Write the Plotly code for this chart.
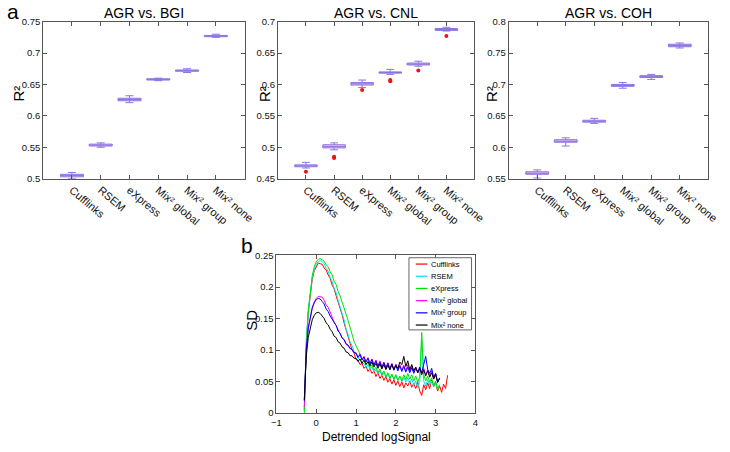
import plotly.graph_objects as go

# ---------------- data: panel a (box plots) ----------------
CATEGORIES = ["Cufflinks", "RSEM", "eXpress", "Mix² global", "Mix² group", "Mix² none"]
CAT_POS = [1, 2, 3, 4, 5, 6]

PANEL_TITLES = ["AGR vs. BGI", "AGR vs. CNL", "AGR vs. COH"]

# BGI
BGI_LOW = [0.500, 0.550, 0.621, 0.656, 0.669, 0.725]
BGI_Q1 = [0.503, 0.552, 0.624, 0.657, 0.671, 0.726]
BGI_MED = [0.505, 0.553, 0.626, 0.658, 0.672, 0.727]
BGI_Q3 = [0.507, 0.555, 0.628, 0.659, 0.673, 0.728]
BGI_HIGH = [0.510, 0.557, 0.632, 0.660, 0.675, 0.730]
BGI_OUT_X = []
BGI_OUT_Y = []

# CNL
CNL_LOW = [0.467, 0.496, 0.595, 0.616, 0.629, 0.685]
CNL_Q1 = [0.469, 0.499, 0.599, 0.618, 0.631, 0.686]
CNL_MED = [0.470, 0.501, 0.601, 0.619, 0.632, 0.687]
CNL_Q3 = [0.472, 0.504, 0.603, 0.620, 0.634, 0.689]
CNL_HIGH = [0.476, 0.507, 0.607, 0.624, 0.637, 0.691]
CNL_OUT_X = [1, 2, 2, 3, 4, 4, 5, 6]
CNL_OUT_Y = [0.461, 0.483, 0.485, 0.591, 0.605, 0.607, 0.622, 0.677]

# COH
COH_LOW = [0.551, 0.602, 0.638, 0.694, 0.708, 0.758]
COH_Q1 = [0.557, 0.608, 0.640, 0.697, 0.711, 0.760]
COH_MED = [0.558, 0.609, 0.641, 0.698, 0.712, 0.762]
COH_Q3 = [0.561, 0.612, 0.643, 0.700, 0.714, 0.764]
COH_HIGH = [0.564, 0.615, 0.646, 0.703, 0.716, 0.766]
COH_OUT_X = []
COH_OUT_Y = []

BGI_YTICKS = [0.5, 0.55, 0.6, 0.65, 0.7, 0.75]
BGI_YLABELS = ["0.5", "0.55", "0.6", "0.65", "0.7", "0.75"]
CNL_YTICKS = [0.45, 0.5, 0.55, 0.6, 0.65, 0.7]
CNL_YLABELS = ["0.45", "0.5", "0.55", "0.6", "0.65", "0.7"]
COH_YTICKS = [0.55, 0.6, 0.65, 0.7, 0.75, 0.8]
COH_YLABELS = ["0.55", "0.6", "0.65", "0.7", "0.75", "0.8"]

# ---------------- data: panel b (SD curves) ----------------
SIGNAL = [-0.30, -0.25, -0.20, -0.15, -0.10, -0.05, 0.00, 0.05, 0.10, 0.15,
          0.20, 0.25, 0.30, 0.35, 0.40, 0.45, 0.50, 0.55, 0.60, 0.65,
          0.70, 0.75, 0.80, 0.85, 0.90, 0.95, 1.00, 1.05, 1.10, 1.15,
          1.20, 1.25, 1.30, 1.35, 1.40, 1.45, 1.50, 1.55, 1.60, 1.65,
          1.70, 1.75, 1.80, 1.85, 1.90, 1.95, 2.00, 2.05, 2.10, 2.15,
          2.20, 2.25, 2.30, 2.35, 2.40, 2.45, 2.50, 2.55, 2.60, 2.65,
          2.70, 2.75, 2.80, 2.85, 2.90, 2.95, 3.00, 3.05, 3.10, 3.15,
          3.20, 3.25, 3.30]

SD_CUFFLINKS = [0.005, 0.110, 0.160, 0.192, 0.212, 0.226, 0.232, 0.238, 0.237, 0.236,
                0.230, 0.227, 0.219, 0.214, 0.203, 0.197, 0.186, 0.176, 0.168, 0.156,
                0.143, 0.133, 0.121, 0.111, 0.100, 0.095, 0.085, 0.084, 0.077, 0.079,
                0.071, 0.075, 0.066, 0.071, 0.063, 0.067, 0.058, 0.064, 0.055, 0.060,
                0.052, 0.058, 0.049, 0.055, 0.046, 0.053, 0.044, 0.051, 0.042, 0.050,
                0.040, 0.048, 0.043, 0.051, 0.041, 0.047, 0.039, 0.049, 0.035, 0.028,
                0.045, 0.037, 0.048, 0.039, 0.053, 0.042, 0.049, 0.035, 0.043, 0.033,
                0.046, 0.039, 0.060]
SD_RSEM = [0.005, 0.115, 0.165, 0.195, 0.215, 0.228, 0.236, 0.240, 0.242, 0.240,
           0.237, 0.229, 0.225, 0.215, 0.209, 0.198, 0.191, 0.179, 0.170, 0.158,
           0.148, 0.133, 0.125, 0.113, 0.107, 0.098, 0.094, 0.087, 0.085, 0.079,
           0.079, 0.073, 0.077, 0.069, 0.073, 0.065, 0.069, 0.062, 0.067, 0.059,
           0.065, 0.057, 0.063, 0.055, 0.061, 0.054, 0.060, 0.052, 0.058, 0.051,
           0.057, 0.049, 0.056, 0.048, 0.054, 0.044, 0.051, 0.041, 0.049, 0.115,
           0.051, 0.043, 0.053, 0.045, 0.051, 0.042, 0.049, 0.039, 0.045]
SD_EXPRESS = [0.000, 0.105, 0.160, 0.195, 0.218, 0.232, 0.240, 0.244, 0.245, 0.243,
              0.241, 0.235, 0.232, 0.224, 0.219, 0.209, 0.204, 0.193, 0.186, 0.176,
              0.168, 0.157, 0.147, 0.135, 0.125, 0.114, 0.107, 0.099, 0.093, 0.087,
              0.084, 0.077, 0.081, 0.072, 0.077, 0.068, 0.073, 0.064, 0.070, 0.061,
              0.067, 0.057, 0.064, 0.055, 0.062, 0.053, 0.061, 0.052, 0.059, 0.051,
              0.061, 0.053, 0.063, 0.054, 0.061, 0.051, 0.059, 0.049, 0.057, 0.128,
              0.061, 0.051, 0.059, 0.049, 0.056, 0.043, 0.051, 0.037, 0.045]
SD_MIX_GLOBAL = [0.010, 0.100, 0.135, 0.155, 0.168, 0.176, 0.182, 0.185, 0.185, 0.184,
                 0.179, 0.171, 0.168, 0.159, 0.153, 0.144, 0.139, 0.132, 0.127, 0.119,
                 0.116, 0.109, 0.107, 0.102, 0.101, 0.096, 0.096, 0.089, 0.094, 0.085,
                 0.090, 0.082, 0.088, 0.079, 0.086, 0.077, 0.084, 0.075, 0.083, 0.074,
                 0.081, 0.072, 0.080, 0.071, 0.079, 0.069, 0.078, 0.069, 0.077, 0.068,
                 0.076, 0.067, 0.077, 0.066, 0.075, 0.065, 0.073, 0.064, 0.072, 0.063,
                 0.071, 0.061, 0.069, 0.059, 0.067, 0.054, 0.063, 0.049, 0.055]
SD_MIX_GROUP = [0.020, 0.100, 0.135, 0.153, 0.166, 0.175, 0.180, 0.182, 0.181, 0.177,
                0.173, 0.165, 0.161, 0.154, 0.149, 0.142, 0.139, 0.130, 0.127, 0.119,
                0.117, 0.110, 0.108, 0.103, 0.101, 0.096, 0.095, 0.088, 0.093, 0.084,
                0.089, 0.081, 0.087, 0.078, 0.085, 0.076, 0.083, 0.074, 0.081, 0.072,
                0.080, 0.071, 0.079, 0.069, 0.078, 0.068, 0.076, 0.067, 0.075, 0.066,
                0.074, 0.065, 0.073, 0.064, 0.072, 0.063, 0.071, 0.065, 0.073, 0.064,
                0.076, 0.090, 0.069, 0.063, 0.071, 0.057, 0.063, 0.049, 0.056]
SD_MIX_NONE = [0.020, 0.090, 0.120, 0.137, 0.148, 0.155, 0.159, 0.160, 0.158, 0.154,
               0.150, 0.143, 0.140, 0.133, 0.129, 0.122, 0.120, 0.113, 0.111, 0.105,
               0.103, 0.097, 0.096, 0.091, 0.091, 0.087, 0.087, 0.082, 0.086, 0.079,
               0.084, 0.077, 0.082, 0.075, 0.081, 0.073, 0.079, 0.071, 0.078, 0.070,
               0.077, 0.069, 0.076, 0.069, 0.077, 0.069, 0.076, 0.071, 0.081, 0.077,
               0.090, 0.074, 0.083, 0.069, 0.077, 0.067, 0.073, 0.064, 0.071, 0.061,
               0.069, 0.059, 0.067, 0.057, 0.064, 0.054, 0.061, 0.049, 0.055]

SERIES_NAMES = ["Cufflinks", "RSEM", "eXpress", "Mix² global", "Mix² group", "Mix² none"]
SERIES_COLORS = ["#ff0000", "#00e5ee", "#00e000", "#ff00ff", "#0000ff", "#000000"]
SERIES_VALUES = [SD_CUFFLINKS, SD_RSEM, SD_EXPRESS, SD_MIX_GLOBAL, SD_MIX_GROUP, SD_MIX_NONE]

SD_YTICKS = [0, 0.05, 0.1, 0.15, 0.2, 0.25]
SD_YLABELS = ["0", "0.05", "0.1", "0.15", "0.2", "0.25"]
SD_XTICKS = [-1, 0, 1, 2, 3, 4]

# ---------------- layout helpers ----------------
W, H = 730, 452
FONT = "Liberation Sans, Arial, Helvetica, sans-serif"


def px(x):
    return x / W


def py(y):
    return 1 - y / H


fig = go.Figure()

panels = [
    ("x", "y", BGI_LOW, BGI_Q1, BGI_MED, BGI_Q3, BGI_HIGH, BGI_OUT_X, BGI_OUT_Y),
    ("x2", "y2", CNL_LOW, CNL_Q1, CNL_MED, CNL_Q3, CNL_HIGH, CNL_OUT_X, CNL_OUT_Y),
    ("x3", "y3", COH_LOW, COH_Q1, COH_MED, COH_Q3, COH_HIGH, COH_OUT_X, COH_OUT_Y),
]
for xa, ya, lo, q1, med, q3, hi, ox, oy in panels:
    fig.add_trace(go.Box(
        x=CAT_POS, lowerfence=lo, q1=q1, median=med, q3=q3, upperfence=hi,
        xaxis=xa, yaxis=ya, width=0.8, whiskerwidth=0.35,
        line=dict(color="#8a74e4", width=1), fillcolor="rgba(238,186,226,1)",
        boxpoints=False, showlegend=False, hoverinfo="skip",
    ))
    if ox:
        fig.add_trace(go.Scatter(
            x=ox, y=oy, mode="markers", xaxis=xa, yaxis=ya,
            marker=dict(color="#ee1111", size=4, symbol="circle"),
            showlegend=False, hoverinfo="skip",
        ))

for name, color, vals in zip(SERIES_NAMES, SERIES_COLORS, SERIES_VALUES):
    fig.add_trace(go.Scatter(
        x=SIGNAL[:len(vals)], y=vals, mode="lines", name=name,
        line=dict(color=color, width=1), xaxis="x4", yaxis="y4", showlegend=False,
    ))

axis_common = dict(
    showline=True, linecolor="#555555", linewidth=1, mirror="ticks",
    ticks="inside", ticklen=4, tickcolor="#555555", showgrid=False, zeroline=False,
)

top_dom_y = [py(177), py(16)]
x_domains = [[px(39), px(245)], [px(279), px(480)], [px(515), px(719)]]
y_ranges = [[0.5, 0.75], [0.45, 0.7], [0.55, 0.8]]
y_ticks = [(BGI_YTICKS, BGI_YLABELS), (CNL_YTICKS, CNL_YLABELS), (COH_YTICKS, COH_YLABELS)]

layout = dict(
    width=W, height=H, margin=dict(l=0, r=0, t=0, b=0),
    paper_bgcolor="white", plot_bgcolor="white",
    font=dict(family=FONT, color="#111111"), showlegend=False,
)
for i in range(3):
    sx = "" if i == 0 else str(i + 1)
    layout["xaxis" + sx] = dict(
        axis_common, domain=x_domains[i], range=[0, 7], anchor="y" + sx,
        tickvals=CAT_POS, ticktext=CATEGORIES, tickangle=40,
        tickfont=dict(size=11, family=FONT),
    )
    layout["yaxis" + sx] = dict(
        axis_common, domain=top_dom_y, range=y_ranges[i], anchor="x" + sx,
        tickvals=y_ticks[i][0], ticktext=y_ticks[i][1],
        tickfont=dict(size=9.5, family=FONT),
    )

layout["xaxis4"] = dict(
    axis_common, domain=[px(277.5), px(481)], range=[-1, 4], anchor="y4",
    tickvals=SD_XTICKS, tickfont=dict(size=9.5, family=FONT),
)
layout["yaxis4"] = dict(
    axis_common, domain=[py(417.3), py(255.7)], range=[0, 0.25], anchor="x4",
    tickvals=SD_YTICKS, ticktext=SD_YLABELS, tickfont=dict(size=9.5, family=FONT),
)

ann = []
ann.append(dict(text="a", x=px(0), y=py(6), xanchor="left", yanchor="middle",
                font=dict(size=21, family=FONT, color="black")))
ann.append(dict(text="b", x=px(239), y=py(245), xanchor="left", yanchor="middle",
                font=dict(size=21, family=FONT, color="black")))
for i, t in enumerate(PANEL_TITLES):
    cx = (x_domains[i][0] + x_domains[i][1]) / 2
    ann.append(dict(text=t, x=cx, y=py(7), xanchor="center", yanchor="middle",
                    font=dict(size=14, family=FONT, color="black")))
for xc in [14, 266, 498]:
    ann.append(dict(text="R²", x=px(xc), y=py(90), xanchor="center",
                    yanchor="middle", textangle=-90,
                    font=dict(size=15, family=FONT, color="black")))
ann.append(dict(text="SD", x=px(252), y=py(322), xanchor="center", yanchor="middle",
                textangle=-90, font=dict(size=15, family=FONT, color="black")))
ann.append(dict(text="Detrended logSignal", x=px(380), y=py(442), xanchor="center",
                yanchor="middle", font=dict(size=12, family=FONT, color="black")))

# legend drawn by hand (compact like the original)
shapes = []
lg_x0, lg_x1, lg_y0, lg_y1 = 413, 477, 258, 332
shapes.append(dict(type="rect", xref="paper", yref="paper",
                   x0=px(lg_x0), x1=px(lg_x1), y0=py(lg_y1), y1=py(lg_y0),
                   line=dict(color="#666666", width=1), fillcolor="white", layer="above"))
row_y = [264.5, 277, 289.5, 302, 314.5, 327]
for name, color, ry in zip(SERIES_NAMES, SERIES_COLORS, row_y):
    shapes.append(dict(type="line", xref="paper", yref="paper",
                       x0=px(420), x1=px(432), y0=py(ry), y1=py(ry),
                       line=dict(color=color, width=1.2), layer="above"))
    ann.append(dict(text=name, x=px(434), y=py(ry), xanchor="left", yanchor="middle",
                    font=dict(size=7.5, family=FONT, color="black")))

for a in ann:
    a.setdefault("xref", "paper")
    a.setdefault("yref", "paper")
    a["showarrow"] = False

layout["annotations"] = ann
layout["shapes"] = shapes
fig.update_layout(**layout)

fig.write_html("out.html", config={"displayModeBar": False},
               post_script="document.body.style.margin='0';document.body.style.padding='0';")
